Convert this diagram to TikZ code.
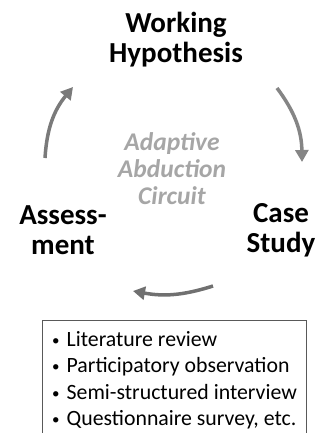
\documentclass[tikz,border=0pt]{standalone}
\usepackage{fontspec}
\setmainfont{Carlito}
\usetikzlibrary{arrows.meta}
\definecolor{midtxt}{HTML}{A6A6A6}
\definecolor{arrA}{HTML}{858585}
\definecolor{arrB}{HTML}{7A7A7A}
\definecolor{arrC}{HTML}{707070}
\newcommand{\blt}{\raisebox{1pt}{\fontsize{15}{15}\selectfont\textbullet}\hspace{7pt}}
\tikzset{
  title/.style={font=\bfseries\fontsize{29}{30}\selectfont, align=center, inner sep=0pt},
  midlabel/.style={font=\bfseries\itshape\fontsize{25.5}{27}\selectfont, text=midtxt, align=center, inner sep=0pt},
  cyc/.style={line width=3.5pt, -{Triangle[width=13pt,length=12pt]}},
  listtxt/.style={font=\fontsize{21.8}{26.5}\selectfont, align=left, inner sep=0pt, anchor=north west},
}
\begin{document}
\begin{tikzpicture}[x=1pt,y=-1pt]
\useasboundingbox (0,0) rectangle (321,433);
\node[title] (wh) at (176,40) {Working\\Hypothesis};
\node[title] (cs) at (281,230) {Case\\Study};
\node[title] (as) at (63,230) {Assess-\\ment};
\node[midlabel] (mid) at (172,169) {Adaptive\\Abduction\\Circuit};
\coordinate (a1s) at (277,88);
\coordinate (a1e) at (302,162);
\coordinate (a2s) at (213,286);
\coordinate (a2e) at (133,291);
\coordinate (a3s) at (45,158);
\coordinate (a3e) at (73,87);
\draw[cyc, arrA] (a1s) to[bend left=18] (a1e);
\draw[cyc, arrC] (a2s) to[bend left=14] (a2e);
\draw[cyc, arrB] (a3s) to[bend left=18] (a3e);
\begin{scope}
\clip (0,0) rectangle (321,433);
\node[draw=black!65, line width=0.8pt, anchor=north west, minimum width=264pt, minimum height=140pt, inner sep=0pt] (frame) at (42,320) {};
\end{scope}
\node[listtxt] (list) at (52,331) {\blt Literature review\\\blt Participatory observation\\\blt Semi-structured interview\\\blt Questionnaire survey, etc.};
\end{tikzpicture}
\end{document}
